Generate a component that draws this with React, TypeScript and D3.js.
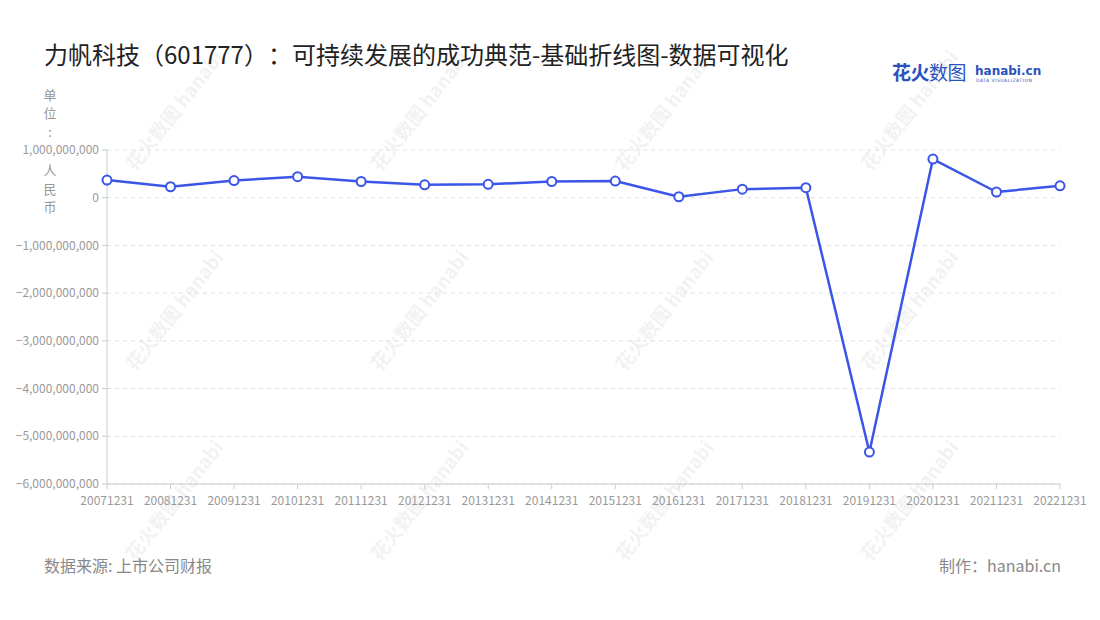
import React from "react";
import * as d3 from "d3";

const categories = ["20071231","20081231","20091231","20101231","20111231","20121231","20131231","20141231","20151231","20161231","20171231","20181231","20191231","20201231","20211231","20221231"];
const values = [3.7e8, 2.3e8, 3.6e8, 4.4e8, 3.4e8, 2.7e8, 2.8e8, 3.4e8, 3.5e8, 0.2e8, 1.8e8, 2.1e8, -5.33e9, 8.1e8, 1.2e8, 2.5e8];
const yTicks = [1e9, 0, -1e9, -2e9, -3e9, -4e9, -5e9, -6e9];
const unitChars = ["单", "位", ":", " ", "人", "民", "币"];
const title = "力帆科技（601777）：可持续发展的成功典范-基础折线图-数据可视化";

const W = 1100, H = 620;
const M = { left: 107, right: 1060, top: 150, bottom: 484 };
const FONT = "'Noto Sans CJK SC', 'Noto Sans', sans-serif";

export default function App() {
  const x = d3.scalePoint<string>().domain(categories).range([M.left, M.right]);
  const y = d3.scaleLinear().domain([-6e9, 1e9]).range([M.bottom, M.top]);
  const fmt = d3.format(",");
  const line = d3.line<number>().x((_, i) => x(categories[i])!).y(d => y(d));
  const wmCols = [180, 425, 670, 915];
  const wmRows = [115, 315, 505];

  return (
    <svg width={W} height={H} style={{ position: "absolute", left: 0, top: 0, fontFamily: FONT }}>
      <rect width={W} height={H} fill="#fff" />
      {/* watermarks */}
      {wmRows.map(r => wmCols.map(c => (
        <g key={`${r}-${c}`} transform={`translate(${c},${r}) rotate(-52)`} opacity={0.06}>
          <text x={0} y={0} textAnchor="middle" fontSize={19} fontWeight={700} fill="#333">花火数图 hanabi</text>
        </g>
      )))}
      <text x={44} y={64} fontSize={24} fill="#222" style={{ textSpacingTrim: "space-all" } as any}>{title}</text>
      {/* logo */}
      <text x={892} y={80} fontSize={19} fontWeight={700} fill="#2a52be" letterSpacing={-0.5}>花火<tspan fontWeight={400}>数图</tspan></text>
      <text x={975} y={75} fontSize={12} fontWeight={700} fill="#2a52be" fontFamily="'DejaVu Sans', sans-serif">hanabi.cn</text>
      <text x={976} y={82} fontSize={4.5} fill="#2a52be" fontFamily="'DejaVu Sans', sans-serif" letterSpacing={0.5}>DATA VISUALIZATION</text>
      {/* grid */}
      {yTicks.map(t => (
        <line key={t} x1={M.left} x2={M.right} y1={y(t)} y2={y(t)} stroke="#e0e0e0" strokeDasharray="4,4" />
      ))}
      {/* y axis */}
      <line x1={M.left} x2={M.left} y1={M.top} y2={M.bottom} stroke="#ccc" />
      {yTicks.map(t => (
        <g key={t}>
          <line x1={M.left - 5} x2={M.left} y1={y(t)} y2={y(t)} stroke="#ccc" />
          <text x={M.left - 8} y={y(t)} dy="0.35em" textAnchor="end" fontSize={12} fill="#999">{fmt(t)}</text>
        </g>
      ))}
      {unitChars.map((c, i) => (
        <text key={i} x={50} y={95 + i * 18.8} dy="0.35em" textAnchor="middle" fontSize={13} fill="#999">{c}</text>
      ))}
      {/* x axis */}
      <line x1={M.left} x2={M.right} y1={M.bottom} y2={M.bottom} stroke="#ccc" />
      {categories.map(c => (
        <g key={c}>
          <line x1={x(c)} x2={x(c)} y1={M.bottom} y2={M.bottom + 5} stroke="#ccc" />
          <text x={x(c)} y={501} dy="0.35em" textAnchor="middle" fontSize={12} fill="#999">{c}</text>
        </g>
      ))}
      {/* line */}
      <path d={line(values)!} fill="none" stroke="#3b55e6" strokeWidth={2.5} strokeLinejoin="round" />
      {values.map((v, i) => (
        <circle key={i} cx={x(categories[i])} cy={y(v)} r={4.5} fill="#fff" stroke="#3b55e6" strokeWidth={2} />
      ))}
      {/* footer */}
      <text x={44} y={572} fontSize={16} fill="#888">数据来源: 上市公司财报</text>
      <text x={1061} y={572} textAnchor="end" fontSize={16} fill="#888" style={{ textSpacingTrim: "space-all" } as any}>制作：hanabi.cn</text>
    </svg>
  );
}
